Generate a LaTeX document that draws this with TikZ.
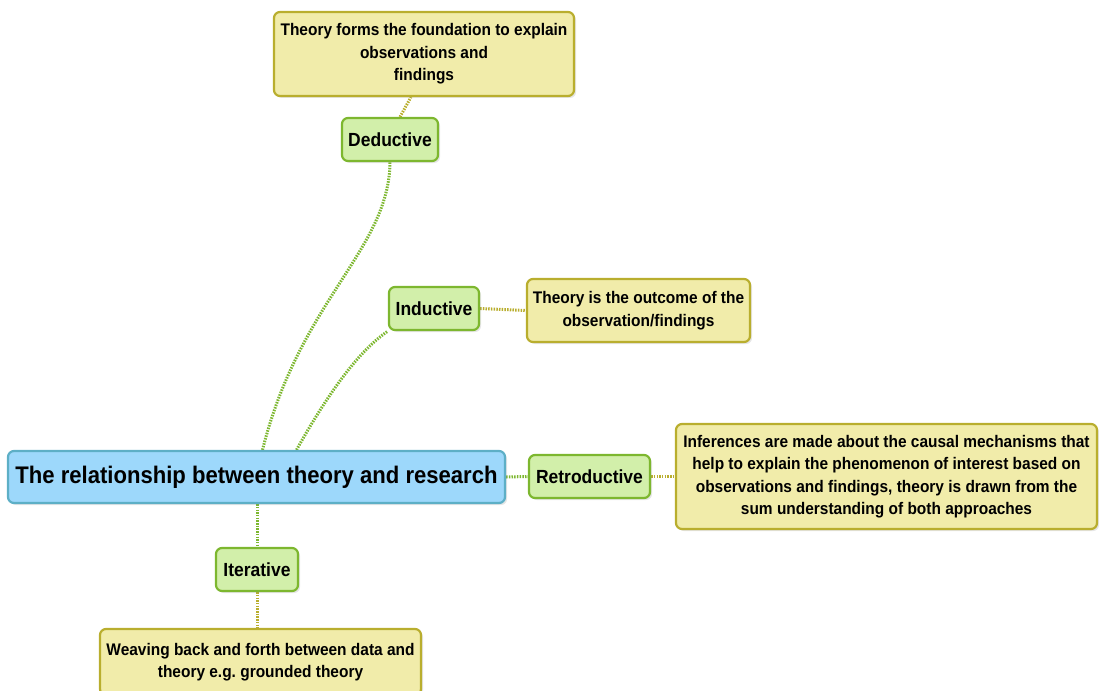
\documentclass[tikz,border=0pt]{standalone}
\usepackage{fontspec}
\setmainfont{Liberation Sans}[FakeStretch=0.92]
\usetikzlibrary{shadows,backgrounds}
\frenchspacing
\definecolor{yfill}{HTML}{F1ECAA}
\definecolor{yline}{HTML}{B9AE2E}
\definecolor{gfill}{HTML}{D2EFAA}
\definecolor{gline}{HTML}{7DB72F}
\definecolor{bfill}{HTML}{9DD8FB}
\definecolor{bline}{HTML}{5DAFC6}
\tikzset{
  base/.style={rounded corners=6pt, line width=2.2pt, align=center, inner sep=0pt,
    font=\bfseries, drop shadow={shadow xshift=2pt, shadow yshift=-2pt, opacity=0.2, fill=gray}},
  topic/.style={base, fill=bfill, draw=bline, font=\bfseries\fontsize{24}{28}\selectfont},
  branch/.style={base, fill=gfill, draw=gline, font=\bfseries\fontsize{19}{22}\selectfont},
  note/.style={base, fill=yfill, draw=yline, font=\bfseries\fontsize{16.8}{22.5}\selectfont},
  glink/.style={draw=gline, line width=3pt, dash pattern=on 1.5pt off 1.2pt},
  ylink/.style={draw=yline, line width=3pt, dash pattern=on 1.5pt off 1.2pt},
}
\begin{document}
\begin{tikzpicture}[x=1pt, y=-1pt]
\useasboundingbox (0,0) rectangle (1099,690);

\node[topic, minimum width=497pt, minimum height=52pt] (c) at (256.5,477) {The relationship between theory and research};

\node[branch, minimum width=96pt, minimum height=43pt] (ded) at (390,139.5) {Deductive};
\node[branch, minimum width=90pt, minimum height=43pt] (ind) at (434,308.5) {Inductive};
\node[branch, minimum width=121pt, minimum height=43pt] (ret) at (589.5,476.5) {Retroductive};
\node[branch, minimum width=82pt, minimum height=43pt] (ite) at (257,569.5) {Iterative};

\node[note, minimum width=300pt, minimum height=84pt] (nded) at (424,54) {Theory forms the foundation to explain\\observations and\\findings};
\node[note, minimum width=223pt, minimum height=63pt] (nind) at (638.5,310.5) {Theory is the outcome of the\\observation/findings};
\node[note, minimum width=421pt, minimum height=105pt] (nret) at (886.5,476.5) {Inferences are made about the causal mechanisms that\\help to explain the phenomenon of interest based on\\observations and findings, theory is drawn from the\\sum understanding of both approaches};
\node[note, minimum width=321pt, minimum height=66pt] (nite) at (260.5,662) {Weaving back and forth between data and\\theory e.g. grounded theory};

\begin{scope}[on background layer]
% topic to branches
\path[glink] (c.north) ++(6,0) coordinate (c1) .. controls (300,300) and (389,250) .. (ded.south);
\path[glink] (c.north) ++(40,0) coordinate (c2) .. controls (330,390) and (360,350) .. (ind.south west);
\path[glink] (c.east) -- (ret.west);
\path[glink] (ite.north |- c.south) -- (ite.north);

% branches to notes
\path[ylink] (ded.north) ++(10,0) coordinate (d1) -- ([xshift=-13pt]nded.south);
\path[ylink] (ind.east) -- (nind.west);
\path[ylink] (ret.east) -- (nret.west);
\path[ylink] (ite.south) -- (ite.south |- nite.north);
\end{scope}
\end{tikzpicture}
\end{document}
